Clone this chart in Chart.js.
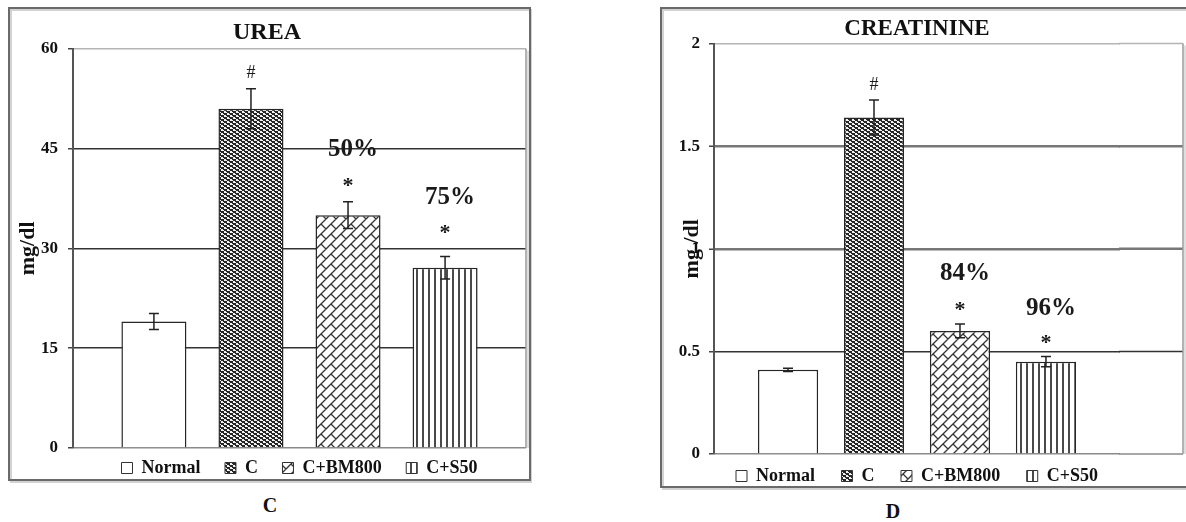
<!DOCTYPE html>
<html>
<head>
<meta charset="utf-8">
<script src="https://cdn.jsdelivr.net/npm/chart.js"></script>
<style>
  html, body { margin: 0; padding: 0; background: #fff; width: 1186px; height: 522px; overflow: hidden; }
  .panel { position: absolute; }
  #urea-wrap { left: 8px; top: 7px; width: 524px; height: 480px; }
  #creat-wrap { left: 660px; top: 7px; width: 526px; height: 488px; }
  .caption { position: absolute; font: bold 20px "Liberation Serif", serif; color: #111; transform: translate(-50%, -50%); }
</style>
</head>
<body>
<div class="panel" id="urea-wrap"><canvas id="urea-chart"></canvas></div>
<div class="panel" id="creat-wrap"><canvas id="creat-chart"></canvas></div>
<div class="caption" style="left:270px; top:505px">C</div>
<div class="caption" style="left:893px; top:511px">D</div>
<script>
const groups = ['Normal', 'C', 'C+BM800', 'C+S50'];

const ureaMeans = [19, 51, 35, 27.1];
const ureaErrors = [1.2, 3, 2, 1.7];
const ureaMarks = ['', '#', '*', '*'];
const ureaPercents = ['', '', '50%', '75%'];
const ureaTicks = [0, 15, 30, 45, 60];

const creatMeans = [0.41, 1.64, 0.6, 0.45];
const creatErrors = [0.008, 0.085, 0.034, 0.025];
const creatMarks = ['', '#', '*', '*'];
const creatPercents = ['', '', '84%', '96%'];
const creatTicks = [0, 0.5, 1, 1.5, 2];

const serif = 'Liberation Serif';

// excel-like fill patterns
function makePattern(kind) {
  const c = document.createElement('canvas');
  const g = c.getContext('2d');
  if (kind === 'dots') {
    c.width = 6; c.height = 4;
    g.fillStyle = '#262626'; g.fillRect(0, 0, 6, 4);
    g.fillStyle = '#f2f2f2';
    g.fillRect(0, 0, 2, 2); g.fillRect(3, 2, 2, 2);
    g.fillRect(2, 1, 1, 1); g.fillRect(5, 3, 1, 1);
  } else if (kind === 'brick') {
    c.width = 10; c.height = 10;
    g.fillStyle = '#fff'; g.fillRect(0, 0, 10, 10);
    g.strokeStyle = '#333'; g.lineWidth = 1.3;
    g.beginPath();
    g.moveTo(-1, 11); g.lineTo(11, -1);
    g.moveTo(-1, 1); g.lineTo(1, -1);
    g.moveTo(9, 11); g.lineTo(11, 9);
    g.moveTo(3, 7); g.lineTo(8, 12);
    g.moveTo(3, -3); g.lineTo(8, 2);
    g.stroke();
  } else if (kind === 'vlines') {
    c.width = 6; c.height = 6;
    g.fillStyle = '#fff'; g.fillRect(0, 0, 6, 6);
    g.fillStyle = '#4a4a4a'; g.fillRect(0, 0, 2, 6);
  } else {
    c.width = 2; c.height = 2;
    g.fillStyle = '#fff'; g.fillRect(0, 0, 2, 2);
  }
  return g.createPattern(c, 'repeat');
}

const fills = [makePattern('plain'), makePattern('dots'), makePattern('brick'), makePattern('vlines')];

const errorBars = {
  id: 'errorBars',
  afterDatasetsDraw(chart, args, opts) {
    const { ctx } = chart;
    const y = chart.scales.y;
    ctx.save();
    chart.data.datasets.forEach((ds, i) => {
      const bar = chart.getDatasetMeta(i).data[0];
      const v = ds.data[0], e = opts.errors[i];
      const top = y.getPixelForValue(v + e), bot = y.getPixelForValue(v - e);
      ctx.strokeStyle = '#222';
      ctx.lineWidth = 1.5;
      ctx.beginPath();
      ctx.moveTo(bar.x, top); ctx.lineTo(bar.x, bot);
      ctx.moveTo(bar.x - 5, top); ctx.lineTo(bar.x + 5, top);
      ctx.moveTo(bar.x - 5, bot); ctx.lineTo(bar.x + 5, bot);
      ctx.stroke();

      ctx.fillStyle = '#1a1a1a';
      ctx.textAlign = 'center';
      ctx.textBaseline = 'middle';
      const mark = opts.marks[i];
      if (mark) {
        ctx.font = mark === '#' ? '18px ' + serif : 'bold 22px ' + serif;
        ctx.fillText(mark, bar.x, top - opts.markGap[i]);
      }
      if (opts.percents[i]) {
        ctx.font = 'bold 25px ' + serif;
        ctx.fillText(opts.percents[i], bar.x + 5, top - opts.pctGap[i]);
      }
    });
    ctx.restore();
  }
};

// outer box and plot area edge
const frame = {
  id: 'frame',
  beforeDraw(chart, args, opts) {
    const { ctx } = chart;
    const b = opts.box;
    ctx.save();
    ctx.lineWidth = 2;
    ctx.strokeStyle = '#d2d2d2';
    ctx.strokeRect(b.x + 2, b.y + 2, b.w, b.h);
    ctx.strokeStyle = '#6a6a6a';
    ctx.strokeRect(b.x, b.y, b.w, b.h);
    ctx.restore();
  },
  beforeDatasetsDraw(chart, args, opts) {
    const { ctx, chartArea: a } = chart;
    const y = chart.scales.y;
    const right = a.right + opts.extend;
    ctx.save();
    if (opts.extend) {
      y.ticks.forEach(t => {
        const py = y.getPixelForValue(t.value);
        ctx.strokeStyle = opts.gridColor(t.value);
        ctx.lineWidth = opts.gridWidth(t.value);
        ctx.beginPath();
        ctx.moveTo(a.right - 1, py); ctx.lineTo(right, py);
        ctx.stroke();
      });
    }
    ctx.strokeStyle = '#dedede';
    ctx.lineWidth = 2;
    ctx.beginPath();
    ctx.moveTo(right + 2, a.top + 2); ctx.lineTo(right + 2, a.bottom);
    ctx.stroke();
    ctx.strokeStyle = '#9a9a9a';
    ctx.lineWidth = 1.5;
    ctx.beginPath();
    ctx.moveTo(right, a.top); ctx.lineTo(right, a.bottom);
    ctx.stroke();
    ctx.restore();
  }
};

function buildChart(id, cfg) {
  const ctx = document.getElementById(id).getContext('2d');
  return new Chart(ctx, {
    type: 'bar',
    data: {
      labels: [''],
      datasets: groups.map((name, i) => ({
        label: name,
        data: [cfg.means[i]],
        backgroundColor: fills[i],
        borderColor: '#262626',
        borderWidth: 1.5,
        categoryPercentage: cfg.catPct,
        barPercentage: cfg.barPct
      }))
    },
    plugins: [errorBars, frame],
    options: {
      responsive: true,
      maintainAspectRatio: false,
      animation: false,
      layout: { padding: { left: 0, right: cfg.padRight, top: 0, bottom: 0 } },
      scales: {
        x: { display: false },
        y: {
          min: 0,
          max: cfg.ticks[cfg.ticks.length - 1],
          afterBuildTicks(scale) { scale.ticks = cfg.ticks.map(v => ({ value: v })); },
          afterFit(scale) { scale.width = cfg.axisWidth; },
          ticks: {
            padding: cfg.tickPad,
            color: '#111',
            font: { family: serif, weight: 'bold', size: 17 },
            callback: v => String(v)
          },
          grid: {
            color: c => cfg.gridColor(c.tick.value),
            lineWidth: c => cfg.gridWidth(c.tick.value),
            tickLength: 5,
            tickColor: '#444',
            tickWidth: 1.5
          },
          border: { color: '#555', width: 2 },
          title: {
            display: true,
            text: cfg.unit,
            color: '#111',
            font: { family: serif, weight: 'bold', size: 22 },
            padding: { top: cfg.unitPad, bottom: 0 }
          }
        }
      },
      plugins: {
        title: {
          display: true,
          text: cfg.title,
          fullSize: cfg.titleFull,
          color: '#111',
          font: { family: serif, weight: 'bold', size: cfg.titleSize },
          padding: cfg.titlePad
        },
        legend: {
          position: 'bottom',
          fullSize: false,
          labels: {
            boxWidth: 11,
            boxHeight: 11,
            padding: cfg.legendPad,
            color: '#111',
            font: { family: serif, weight: 'bold', size: 18 },
            generateLabels(chart) {
              return chart.data.datasets.map((ds, i) => ({
                text: i < groups.length - 1 ? ds.label + '   ' : ds.label,
                fillStyle: ds.backgroundColor,
                strokeStyle: '#333',
                lineWidth: 1,
                fontColor: '#111',
                hidden: false,
                datasetIndex: i
              }));
            }
          }
        },
        tooltip: { enabled: false },
        errorBars: {
          errors: cfg.errors,
          marks: cfg.marks,
          percents: cfg.percents,
          markGap: cfg.markGap,
          pctGap: cfg.pctGap
        },
        frame: {
          box: cfg.box,
          extend: cfg.extend,
          gridColor: cfg.gridColor,
          gridWidth: cfg.gridWidth
        }
      }
    }
  });
}

buildChart('urea-chart', {
  title: 'UREA', titleSize: 24, titleFull: true, titlePad: { top: 11, bottom: 2 },
  unit: 'mg/dl', unitPad: 7,
  means: ureaMeans, errors: ureaErrors, marks: ureaMarks, percents: ureaPercents, ticks: ureaTicks,
  markGap: [0, 15, 16, 23], pctGap: [0, 0, 52, 59],
  catPct: 0.857, barPct: 0.67,
  axisWidth: 65, tickPad: 10, padRight: 6, legendPad: 11, extend: 0,
  box: { x: 1, y: 1, w: 521, h: 472 },
  gridColor: v => v === 60 ? '#b5b5b5' : (v === 0 ? '#8a8a8a' : '#333'),
  gridWidth: v => 1.5
});

buildChart('creat-chart', {
  title: 'CREATININE', titleSize: 23, titleFull: false, titlePad: { top: 8, bottom: 1 },
  unit: 'mg /dl', unitPad: 19,
  means: creatMeans, errors: creatErrors, marks: creatMarks, percents: creatPercents, ticks: creatTicks,
  markGap: [0, 15, 14, 13], pctGap: [0, 0, 50, 48],
  catPct: 0.847, barPct: 0.70,
  axisWidth: 54, tickPad: 9, padRight: 66, legendPad: 13, extend: 63,
  box: { x: 1, y: 1, w: 560, h: 479 },
  gridColor: v => v === 2 ? '#b5b5b5' : (v === 0 ? '#8a8a8a' : (v === 0.5 ? '#333' : '#777')),
  gridWidth: v => (v === 1 || v === 1.5) ? 2.5 : 1.5
});
</script>
</body>
</html>
